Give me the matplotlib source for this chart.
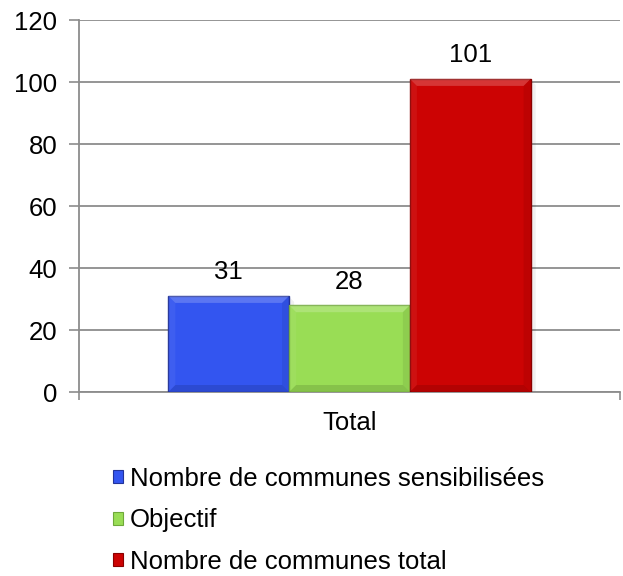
import numpy as np
import matplotlib
matplotlib.use("Agg")
import matplotlib.pyplot as plt
from matplotlib.patches import Patch, Polygon
from matplotlib.transforms import IdentityTransform

plt.rcParams["font.family"] = ["Liberation Sans", "DejaVu Sans"]

# data
category = "Total"
series = ["Nombre de communes sensibilisées", "Objectif", "Nombre de communes total"]
values = [31, 28, 101]
colors = ["#3355F0", "#99DD55", "#CC0303"]
edges = ["#22339A", "#6FA83A", "#8A0000"]
yticks = [0, 20, 40, 60, 80, 100, 120]

W, H, DPI = 623, 576, 100
FS = 18.5
fig = plt.figure(figsize=(W / DPI, H / DPI), dpi=DPI)
ax = fig.add_axes([79 / W, 1 - 392 / H, 541 / W, 372 / H])

grey = "#8C8C8C"
pos = np.arange(len(values)) - 1.0
bars = ax.bar(pos, values, width=1.0, color=colors, edgecolor=edges, linewidth=1.0, zorder=3)

ax.set_xlim(-2.24, 2.24)
ax.set_ylim(0, 120)
ax.set_yticks(yticks)
ax.tick_params(axis="y", labelsize=FS, length=7, width=1.2, color=grey, direction="out", pad=8.5)
ax.grid(axis="y", color=grey, linewidth=1.3, zorder=0)
ax.set_axisbelow(True)

# category axis: ticks at the edges, label in the middle
ax.set_xticks([-2.24, 2.24])
ax.set_xticklabels(["", ""])
ax.tick_params(axis="x", length=6, width=1.2, color=grey, direction="out")
ax.set_xticks([0], minor=True)
ax.set_xticklabels([category], minor=True, fontsize=FS)
ax.tick_params(axis="x", which="minor", length=0, pad=13.5)

for s in ["top", "right"]:
    ax.spines[s].set_visible(False)
for s in ["left", "bottom"]:
    ax.spines[s].set_color(grey)
    ax.spines[s].set_linewidth(1.3)

# bevel effect on each bar (pixel coordinates)
fig.canvas.draw()
bev = 7
for b, c in zip(bars, colors):
    x0, y0 = ax.transData.transform((b.get_x(), 0))
    x1, y1 = ax.transData.transform((b.get_x() + b.get_width(), b.get_height()))
    top = [(x0, y1), (x1, y1), (x1 - bev, y1 - bev), (x0 + bev, y1 - bev)]
    bot = [(x0, y0), (x1, y0), (x1 - bev, y0 + bev), (x0 + bev, y0 + bev)]
    lft = [(x0, y0), (x0, y1), (x0 + bev, y1 - bev), (x0 + bev, y0 + bev)]
    rgt = [(x1, y0), (x1, y1), (x1 - bev, y1 - bev), (x1 - bev, y0 + bev)]
    for pts, col, a in [(top, "white", 0.2), (lft, "white", 0.06),
                        (bot, "black", 0.12), (rgt, "black", 0.07)]:
        ax.add_patch(Polygon(pts, closed=True, transform=IdentityTransform(),
                             facecolor=col, alpha=a, edgecolor="none", zorder=4))
    # soft shadow to the right
    shadow = [(x1 + 1, y0), (x1 + 1, y1 - 2), (x1 + 5, y1 - 6), (x1 + 5, y0)]
    ax.add_patch(Polygon(shadow, closed=True, transform=IdentityTransform(),
                         facecolor="black", alpha=0.06, edgecolor="none", zorder=2))

for b, v in zip(bars, values):
    ax.annotate(str(v), (b.get_x() + b.get_width() / 2, v), xytext=(0, 17),
                textcoords="offset points", ha="center", va="center", fontsize=FS)

handles = [Patch(facecolor=c, edgecolor=e, linewidth=0.8) for c, e in zip(colors, edges)]
fig.legend(handles, series, loc="upper left", bbox_to_anchor=(113 / W, 1 - 467 / H),
           frameon=False, fontsize=FS, handlelength=0.4, handleheight=0.4,
           handletextpad=0.25, labelspacing=0.68, borderaxespad=0, borderpad=0)

fig.savefig("out.png", dpi=DPI)
